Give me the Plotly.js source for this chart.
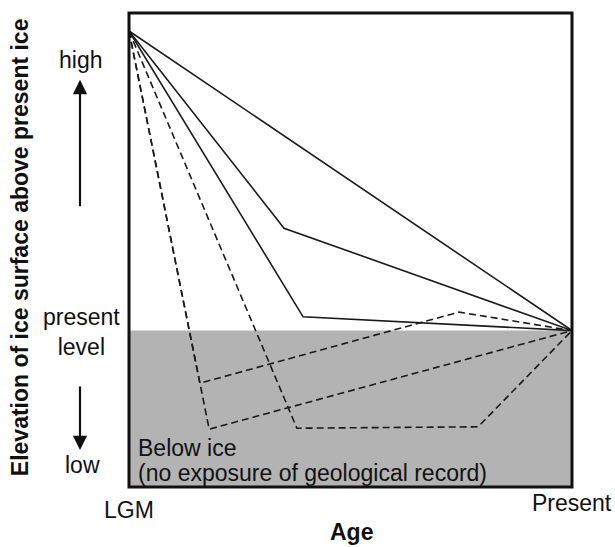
<!DOCTYPE html>
<html>
<head>
<meta charset="utf-8">
<script src="https://cdn.plot.ly/plotly-3.0.1.min.js"></script>
<style>html,body{margin:0;padding:0;background:#fff;}#chart{width:615px;height:547px;}</style>
</head>
<body>
<div id="chart"></div>
<script>
// Age axis: 0 = LGM, 100 = Present; elevation axis: 0 = lowest, 100 = highest, present level = 33
const xTickLabels = ["LGM", "Present"];
const yLevelLabels = ["high", "present<br>level", "low"];
const yLevelValues = [90.1, 32.7, 4.6];
const presentLevel = 33;

const solidA_x = [0, 100];
const solidA_y = [96.2, 33];
const solidB_x = [0, 35.0, 100];
const solidB_y = [96.2, 54.6, 33];
const solidC_x = [0, 39.3, 100];
const solidC_y = [96.2, 35.9, 33];
const dashedA_x = [0, 16.0, 74.5, 100];
const dashedA_y = [96.2, 21.9, 36.9, 33];
const dashedB_x = [0, 18.1, 100];
const dashedB_y = [96.2, 12.2, 33];
const dashedC_x = [0, 37.9, 78.8, 100];
const dashedC_y = [96.2, 12.4, 12.7, 33];

const FONT = "Liberation Sans, Arial, Helvetica, sans-serif";
const lineColor = "#1a1a1a";
const FS = 23;

function tr(x, y, dashed) {
  return {
    x: x, y: y, type: "scatter", mode: "lines", hoverinfo: "skip", showlegend: false,
    line: {color: lineColor, width: 1.6, dash: dashed ? "7px,4px" : "solid"},
    cliponaxis: false
  };
}

const data = [
  tr(solidA_x, solidA_y, false),
  tr(solidB_x, solidB_y, false),
  tr(solidC_x, solidC_y, false),
  tr(dashedA_x, dashedA_y, true),
  tr(dashedB_x, dashedB_y, true),
  tr(dashedC_x, dashedC_y, true)
];

const txt = (text, x, y, opts) => Object.assign({
  text: text, x: x, y: y, xref: "paper", yref: "y", showarrow: false,
  font: {family: FONT, size: FS, color: "#111"}, xanchor: "center", yanchor: "middle"
}, opts || {});

const annotations = [
  txt(yLevelLabels[0], -0.1106, yLevelValues[0]),
  txt(yLevelLabels[1], -0.108, yLevelValues[1], {align: "center"}),
  txt(yLevelLabels[2], -0.106, yLevelValues[2]),
  txt(xTickLabels[0], 0, -0.0485, {yref: "paper"}),
  txt(xTickLabels[1], 1, -0.0338, {yref: "paper"}),
  txt("<b>Age</b>", 0.503, -0.094, {yref: "paper"}),
  txt("<b>Elevation of ice surface above present ice</b>", -0.246, 50.6, {textangle: -90}),
  txt("Below ice", 0.016, 8.2, {xanchor: "left"}),
  txt("(no exposure of geological record)", 0.016, 2.95, {xanchor: "left"}),
  {x: -0.1106, y: 85.9, xref: "paper", yref: "y", ax: 0, ay: 58.9, axref: "pixel", ayref: "y",
   showarrow: true, arrowhead: 2, arrowsize: 1.3, arrowwidth: 2.2, arrowcolor: "#111", text: "", standoff: 0},
  {x: -0.1106, y: 7.8, xref: "paper", yref: "y", ax: 0, ay: 21.5, axref: "pixel", ayref: "y",
   showarrow: true, arrowhead: 2, arrowsize: 1.3, arrowwidth: 2.2, arrowcolor: "#111", text: "", standoff: 0}
];

const layout = {
  width: 615, height: 547,
  margin: {l: 129, r: 43, t: 13, b: 60},
  paper_bgcolor: "#fff", plot_bgcolor: "#fff",
  xaxis: {range: [0, 100], showgrid: false, zeroline: false, showticklabels: false, ticks: "", showline: false, fixedrange: true},
  yaxis: {range: [0, 100], showgrid: false, zeroline: false, showticklabels: false, ticks: "", showline: false, fixedrange: true},
  shapes: [
    {type: "rect", xref: "paper", yref: "y", x0: 0, x1: 1, y0: 0, y1: presentLevel,
     fillcolor: "#b3b3b3", line: {width: 0}, layer: "below"},
    {type: "rect", xref: "paper", yref: "paper", x0: 0, x1: 1, y0: 0, y1: 1,
     fillcolor: "rgba(0,0,0,0)", line: {color: "#111", width: 3}, layer: "above"}
  ],
  annotations: annotations,
  showlegend: false
};

Plotly.newPlot("chart", data, layout, {displayModeBar: false, staticPlot: true});
</script>
</body>
</html>
